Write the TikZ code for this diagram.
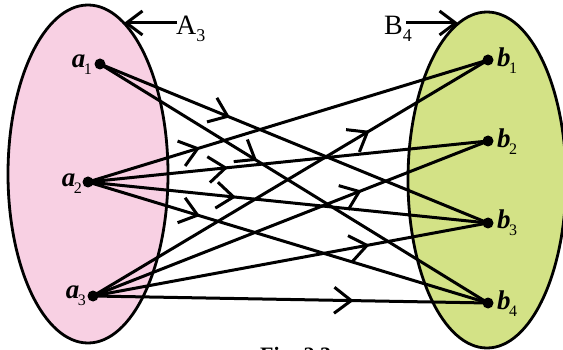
\documentclass[tikz,border=0pt]{standalone}
\usepackage{fontspec}
\setmainfont{Liberation Serif}
\usetikzlibrary{arrows.meta,decorations.markings}
\definecolor{setpink}{RGB}{248,208,227}
\definecolor{setgreen}{RGB}{211,226,134}
\newcommand{\albl}[2]{\fontsize{27}{29}\selectfont\bfseries\itshape #1\kern-1.5pt\raisebox{-7pt}{\fontsize{16}{16}\selectfont\upshape\mdseries #2}}
\tikzset{
  setline/.style={line width=3pt},
  pt/.style={circle,fill=black,inner sep=0pt,minimum size=11pt},
  lbl/.style={inner sep=0pt},
  barb/.tip={Straight Barb[length=17pt,width=26pt]},
  flow/.style={setline,line cap=round,postaction={decorate},
    decoration={markings,mark=at position #1 with {\arrow{barb}}}},
  pointer/.style={setline,-{Straight Barb[length=16pt,width=24pt]}}
}
\begin{document}
\begin{tikzpicture}[x=1pt,y=-1pt]
\clip (0,0) rectangle (563,350);
\useasboundingbox (0,0) rectangle (563,350);
% sets
\draw[line width=2.8pt,fill=setpink] (88,174) ellipse [x radius=80pt, y radius=169pt];
\draw[line width=2.8pt,fill=setgreen] (487,180) ellipse [x radius=79pt, y radius=168pt];
% points
\node[pt] (a1) at (100,64) {};
\node[pt] (a2) at (88,182) {};
\node[pt] (a3) at (93,296) {};
\node[pt] (b1) at (488,60) {};
\node[pt] (b2) at (488,141) {};
\node[pt] (b3) at (488,223) {};
\node[pt] (b4) at (488,303) {};
% labels
\node[lbl,anchor=base east] (la1) at (92,68) {\albl{a}{1}};
\node[lbl,anchor=base east] (la2) at (82,186.5) {\albl{a}{2}};
\node[lbl,anchor=base east] (la3) at (86,298.5) {\albl{a}{3}};
\node[lbl,anchor=base west] (lb1) at (497,67) {\albl{b}{1}};
\node[lbl,anchor=base west] (lb2) at (497,148) {\albl{b}{2}};
\node[lbl,anchor=base west] (lb3) at (497,229) {\albl{b}{3}};
\node[lbl,anchor=base west] (lb4) at (497,309) {\albl{b}{4}};
% set names
\node[lbl,anchor=base west] (A3) at (176,35) {\fontsize{28}{30}\selectfont A\raisebox{-7pt}{\fontsize{18}{18}\selectfont 3}};
\node[lbl,anchor=base west] (B4) at (384,35) {\fontsize{28}{30}\selectfont B\raisebox{-7pt}{\fontsize{18}{18}\selectfont 4}};
\coordinate (Atip) at (124,23);
\coordinate (Btip) at (458,23);
\draw[pointer] ([xshift=1pt]A3.west |- Atip) -- (Atip);
\draw[pointer] ([xshift=-6pt]B4.east |- Btip) -- (Btip);
% relation
\draw[flow=0.335] (a1.center) -- (b3.center);
\draw[flow=0.405] (a1.center) -- (b4.center);
\draw[flow=0.28]  (a2.center) -- (b1.center);
\draw[flow=0.35]  (a2.center) -- (b2.center);
\draw[flow=0.37]  (a2.center) -- (b3.center);
\draw[flow=0.28]  (a2.center) -- (b4.center);
\draw[flow=0.70]  (a3.center) -- (b1.center);
\draw[flow=0.68]  (a3.center) -- (b2.center);
\draw[flow=0.70]  (a3.center) -- (b3.center);
\draw[flow=0.66]  (a3.center) -- (b4.center);
% caption (cut off at the bottom, as in the reference)
\node[lbl,anchor=base west] (cap) at (260,362) {\fontsize{22}{24}\selectfont\bfseries Fig. 2.3};
\end{tikzpicture}
\end{document}
